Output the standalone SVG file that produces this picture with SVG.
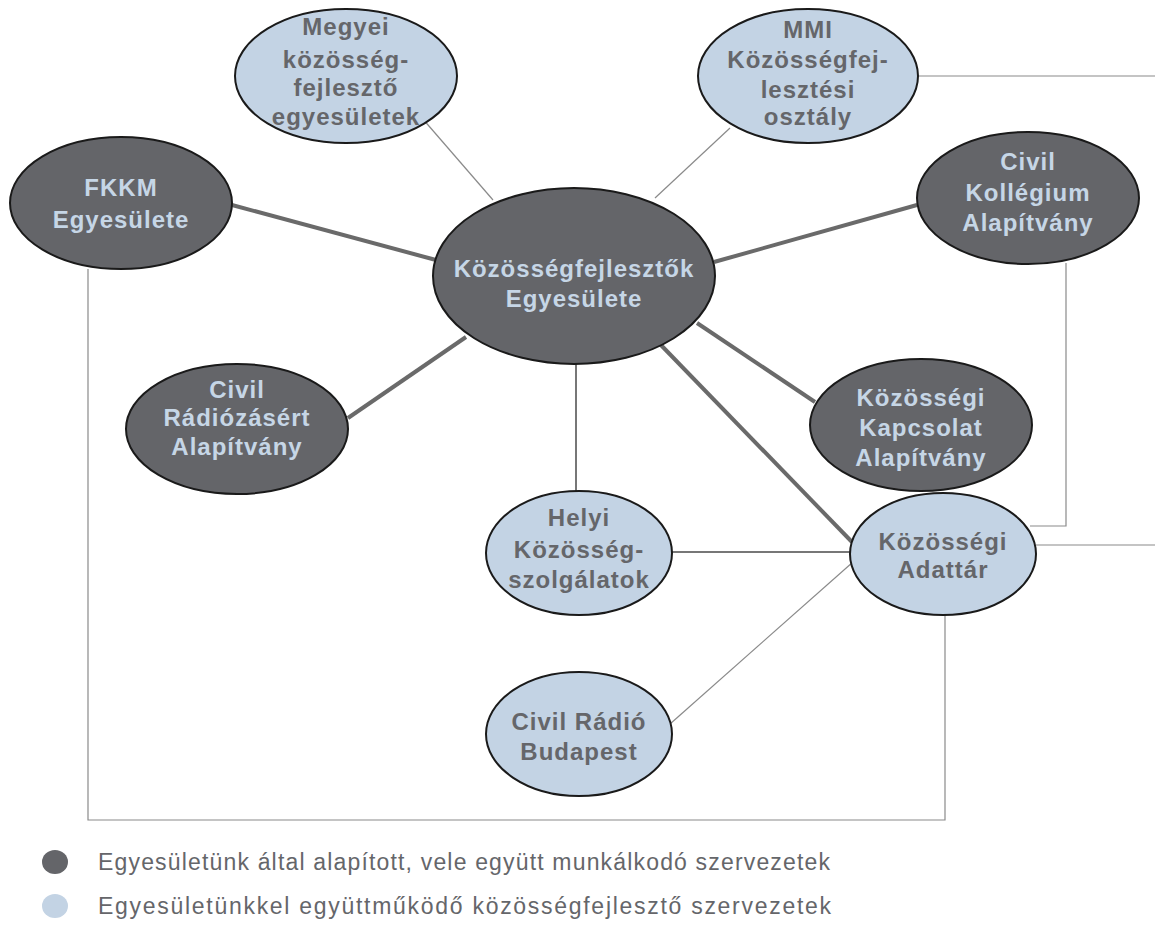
<svg xmlns="http://www.w3.org/2000/svg" width="1155" height="950" viewBox="0 0 1155 950">
<style>
.dark{fill:#646569;stroke:#1a1a1a;stroke-width:2}
.light{fill:#c3d3e4;stroke:#1a1a1a;stroke-width:2}
.tl{font-family:"Liberation Sans",Arial,sans-serif;font-weight:bold;font-size:24px;letter-spacing:1px;fill:#c6d6e6;text-anchor:middle}
.td{font-family:"Liberation Sans",Arial,sans-serif;font-weight:bold;font-size:24px;letter-spacing:1px;fill:#65666a;text-anchor:middle}
.thick{stroke:#6a6a6a;stroke-width:4;fill:none}
.mid{stroke:#777;stroke-width:2;fill:none}
.thin{stroke:#8a8a8a;stroke-width:1.2;fill:none}
.leg{font-family:"Liberation Sans",Arial,sans-serif;font-size:23px;fill:#65666a}
</style>
<rect width="1155" height="950" fill="#fff"/>
<g id="connectors">
<line class="thick" x1="232" y1="205" x2="436" y2="260"/>
<line class="thick" x1="917" y1="205" x2="714" y2="262"/>
<line class="thick" x1="348" y1="418" x2="466" y2="337"/>
<line class="thick" x1="697" y1="323" x2="815" y2="402"/>
<line class="thick" x1="658" y1="342" x2="852" y2="542"/>
<line class="mid" x1="576" y1="363" x2="576" y2="492"/>
<line class="thin" x1="422" y1="118" x2="493" y2="200"/>
<line class="thin" x1="730" y1="128" x2="655" y2="198"/>
<line class="thin" x1="919" y1="76" x2="1155" y2="76"/>
<line class="mid" x1="672" y1="552" x2="851" y2="552"/>
<line class="thin" x1="1036" y1="545" x2="1155" y2="545"/>
<line class="thin" x1="853" y1="562" x2="670" y2="724"/>
<polyline class="thin" points="1066,263 1066,526 1030,526"/>
<polyline class="thin" points="88,269 88,820 945,820 945,615"/>
</g>
<g id="n-center">
<ellipse class="dark" cx="574" cy="276" rx="141" ry="88"/>
<text class="tl" x="574" y="277" font-size="26" letter-spacing="0.4">Közösségfejlesztők</text>
<text class="tl" x="574" y="307" font-size="26" letter-spacing="0.4">Egyesülete</text>
</g>
<g id="n-megyei">
<ellipse class="light" cx="346" cy="76" rx="111" ry="67"/>
<text class="td" x="346" y="35">Megyei</text>
<text class="td" x="346" y="68">közösség-</text>
<text class="td" x="346" y="96">fejlesztő</text>
<text class="td" x="346" y="125">egyesületek</text>
</g>
<g id="n-mmi">
<ellipse class="light" cx="808" cy="76" rx="110" ry="67"/>
<text class="td" x="808" y="38">MMI</text>
<text class="td" x="808" y="68">Közösségfej-</text>
<text class="td" x="808" y="98">lesztési</text>
<text class="td" x="808" y="125">osztály</text>
</g>
<g id="n-fkkm">
<ellipse class="dark" cx="121" cy="203" rx="111" ry="66"/>
<text class="tl" x="121" y="196">FKKM</text>
<text class="tl" x="121" y="228">Egyesülete</text>
</g>
<g id="n-kollegium">
<ellipse class="dark" cx="1028" cy="198" rx="111" ry="66"/>
<text class="tl" x="1028" y="170">Civil</text>
<text class="tl" x="1028" y="201">Kollégium</text>
<text class="tl" x="1028" y="231">Alapítvány</text>
</g>
<g id="n-radiozasert">
<ellipse class="dark" cx="237" cy="429" rx="111" ry="65"/>
<text class="tl" x="237" y="398">Civil</text>
<text class="tl" x="237" y="426">Rádiózásért</text>
<text class="tl" x="237" y="455">Alapítvány</text>
</g>
<g id="n-kapcsolat">
<ellipse class="dark" cx="921" cy="425" rx="111" ry="66"/>
<text class="tl" x="921" y="406">Közösségi</text>
<text class="tl" x="921" y="436">Kapcsolat</text>
<text class="tl" x="921" y="466">Alapítvány</text>
</g>
<g id="n-adattar">
<ellipse class="light" cx="943" cy="554" rx="93" ry="61"/>
<text class="td" x="943" y="550">Közösségi</text>
<text class="td" x="943" y="578">Adattár</text>
</g>
<g id="n-helyi">
<ellipse class="light" cx="579" cy="553" rx="93" ry="62"/>
<text class="td" x="579" y="526">Helyi</text>
<text class="td" x="579" y="558">Közösség-</text>
<text class="td" x="579" y="588">szolgálatok</text>
</g>
<g id="n-budapest">
<ellipse class="light" cx="579" cy="734" rx="93" ry="62"/>
<text class="td" x="579" y="730">Civil Rádió</text>
<text class="td" x="579" y="760">Budapest</text>
</g>
<g id="legend">
<ellipse cx="55" cy="862" rx="13" ry="12" fill="#646569"/>
<text class="leg" x="98" y="870" textLength="732" lengthAdjust="spacing">Egyesületünk által alapított, vele együtt munkálkodó szervezetek</text>
<ellipse cx="55" cy="906" rx="13" ry="12" fill="#c3d3e4"/>
<text class="leg" x="98" y="914" textLength="733" lengthAdjust="spacing">Egyesületünkkel együttműködő közösségfejlesztő szervezetek</text>
</g>
</svg>
